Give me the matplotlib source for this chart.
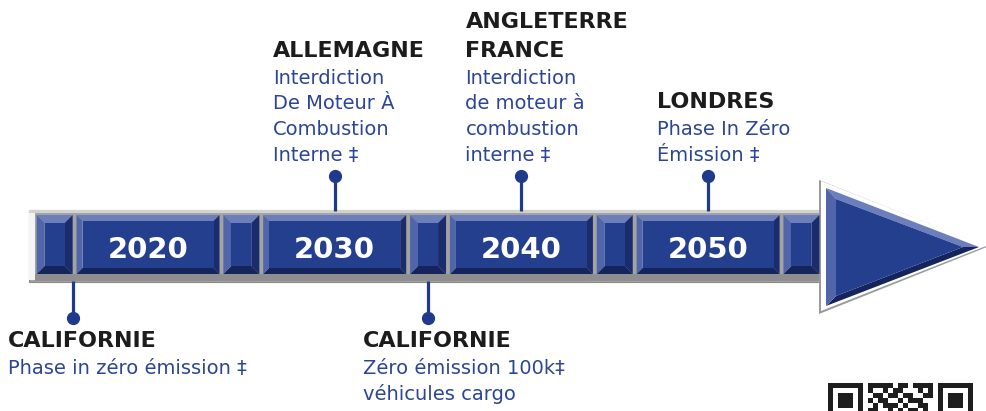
import matplotlib
matplotlib.use("Agg")
import matplotlib.pyplot as plt
from matplotlib.patches import Polygon, Rectangle

# ---------------- data ----------------
decades = [2020, 2030, 2040, 2050]
spacers = [2015, 2025, 2035, 2045, 2055]
event_years = [2016, 2030, 2035, 2040, 2050]
event_side = ["below", "above", "below", "above", "above"]
event_titles = [["CALIFORNIE"], ["ALLEMAGNE"], ["CALIFORNIE"],
                ["ANGLETERRE", "FRANCE"], ["LONDRES"]]
event_desc = [["Phase in zéro émission ‡"],
              ["Interdiction", "De Moteur À", "Combustion", "Interne ‡"],
              ["Zéro émission 100k‡", "véhicules cargo"],
              ["Interdiction", "de moteur à", "combustion", "interne ‡"],
              ["Phase In Zéro", "Émission ‡"]]
qr_rows = ["1111101101111",
           "1001011000101",
           "0110110110011",
           "1011001011100",
           "0101110100110",
           "1100101011010"]

# ---------------- layout ----------------
W, H = 986, 411
PX = 1 / 18.67          # years per pixel
X0 = 148                # pixel position of 2020


def px(p):
    return 2020 + (p - X0) * PX


label_dx = [-65, -62, -65, -56, -51]

fig = plt.figure(figsize=(W / 100, H / 100), dpi=100)
ax = fig.add_axes([0, 0, 1, 1])
ax.set_xlim(px(0), px(W))
ax.set_ylim(H, 0)
ax.axis("off")

FACE = "#243f8e"
TOPB = "#6c7fbc"
LEFTB = "#5166aa"
RIGHTB = "#1b2c6c"
BOTB = "#15245a"
LINE = "#1f3a8a"
BODY = "#2b4597"
TITLE = "#1c1c1c"


def poly(pts, color, z=2, **kw):
    ax.add_patch(Polygon(pts, closed=True, facecolor=color, edgecolor="none",
                         zorder=z, **kw))


def bevel_box(xc, wpx, y0, y1, d):
    hw = wpx / 2 * PX
    x0, x1 = xc - hw, xc + hw
    dx = d * PX
    dy = d
    poly([(x0, y0), (x1, y0), (x1 - dx, y0 + dy), (x0 + dx, y0 + dy)], TOPB, 3)
    poly([(x0, y1), (x1, y1), (x1 - dx, y1 - dy), (x0 + dx, y1 - dy)], BOTB, 3)
    poly([(x0, y0), (x0 + dx, y0 + dy), (x0 + dx, y1 - dy), (x0, y1)], LEFTB, 3)
    poly([(x1, y0), (x1 - dx, y0 + dy), (x1 - dx, y1 - dy), (x1, y1)], RIGHTB, 3)
    poly([(x0 + dx, y0 + dy), (x1 - dx, y0 + dy), (x1 - dx, y1 - dy),
          (x0 + dx, y1 - dy)], FACE, 3)


# frame of the bar
ax.add_patch(Rectangle((px(29), 210), px(824) - px(29), 72, facecolor="#a3a3a3",
                       edgecolor="#8a8a8a", lw=0.8, zorder=1))
ax.add_patch(Rectangle((px(29), 210), px(35) - px(29), 70, facecolor="#f4f4f4",
                       edgecolor="none", zorder=1.5))
ax.add_patch(Rectangle((px(29), 210), px(824) - px(29), 2.5, facecolor="#d2d2d2",
                       edgecolor="none", zorder=1.5))
ax.add_patch(Rectangle((px(35), 274), px(824) - px(35), 7, facecolor="#8e8e8e",
                       edgecolor="none", zorder=1.5))

for y in spacers:
    bevel_box(y, 36, 215, 274, 8)
for y in decades:
    bevel_box(y, 143, 215, 274, 6)
    ax.text(y, 258, str(y), color="white", fontsize=21, fontweight="bold",
            ha="center", va="baseline", zorder=5, family="DejaVu Sans")

# arrow head
poly([(px(819), 180), (px(987), 247), (px(819), 314)], "#9a9a9a", 2)
poly([(px(821), 181), (px(986), 246), (px(821), 311)], "white", 2.2)
a0, a1, tip = 826, 836, 979
poly([(px(a0), 188), (px(tip), 247), (px(963), 247), (px(a1), 199)], TOPB, 3)
poly([(px(a0), 306), (px(tip), 247), (px(963), 247), (px(a1), 296)], BOTB, 3)
poly([(px(a0), 188), (px(a1), 199), (px(a1), 296), (px(a0), 306)], LEFTB, 3)
poly([(px(a1), 199), (px(963), 247), (px(a1), 296)], FACE, 3)

# events
for yr, side, titles, desc, dx in zip(event_years, event_side, event_titles,
                                      event_desc, label_dx):
    if side == "above":
        ax.plot([yr, yr], [176, 211], color=LINE, lw=2.3, zorder=4,
                solid_capstyle="butt")
        ax.plot([yr], [176], "o", color=LINE, ms=8.5, zorder=4)
        last = 161
        first_desc = last - 25.8 * (len(desc) - 1)
    else:
        ax.plot([yr, yr], [281, 318], color=LINE, lw=2.3, zorder=4,
                solid_capstyle="butt")
        ax.plot([yr], [318], "o", color=LINE, ms=8.5, zorder=4)
        first_desc = 374
    tx = yr + dx * PX
    title_last = first_desc - 27
    for i, t in enumerate(titles):
        yb = title_last - 29 * (len(titles) - 1 - i)
        ax.text(tx, yb, t, color=TITLE, fontsize=16, fontweight="bold",
                ha="left", va="baseline", family="DejaVu Sans", zorder=5)
    for i, t in enumerate(desc):
        ax.text(tx, first_desc + 25.8 * i, t, color=BODY, fontsize=14,
                ha="left", va="baseline", family="DejaVu Sans", zorder=5)

# QR code fragment
M = 5
qx, qy = 828, 383
QRC = "#1e1e1e"


def qr_rect(c, r, wc, hr, color=QRC):
    ax.add_patch(Rectangle((px(qx + c * M), qy + r * M), (wc * M) * PX, hr * M,
                           facecolor=color, edgecolor="none", zorder=5))


for c0 in (0, 22):
    qr_rect(c0, 0, 7, 7)
    qr_rect(c0 + 1, 1, 5, 5, "white")
    qr_rect(c0 + 2, 2, 3, 3)
for r, row in enumerate(qr_rows):
    for c, ch in enumerate(row):
        if ch == "1":
            qr_rect(8 + c, r, 1, 1)

fig.savefig("out.png", dpi=100)
